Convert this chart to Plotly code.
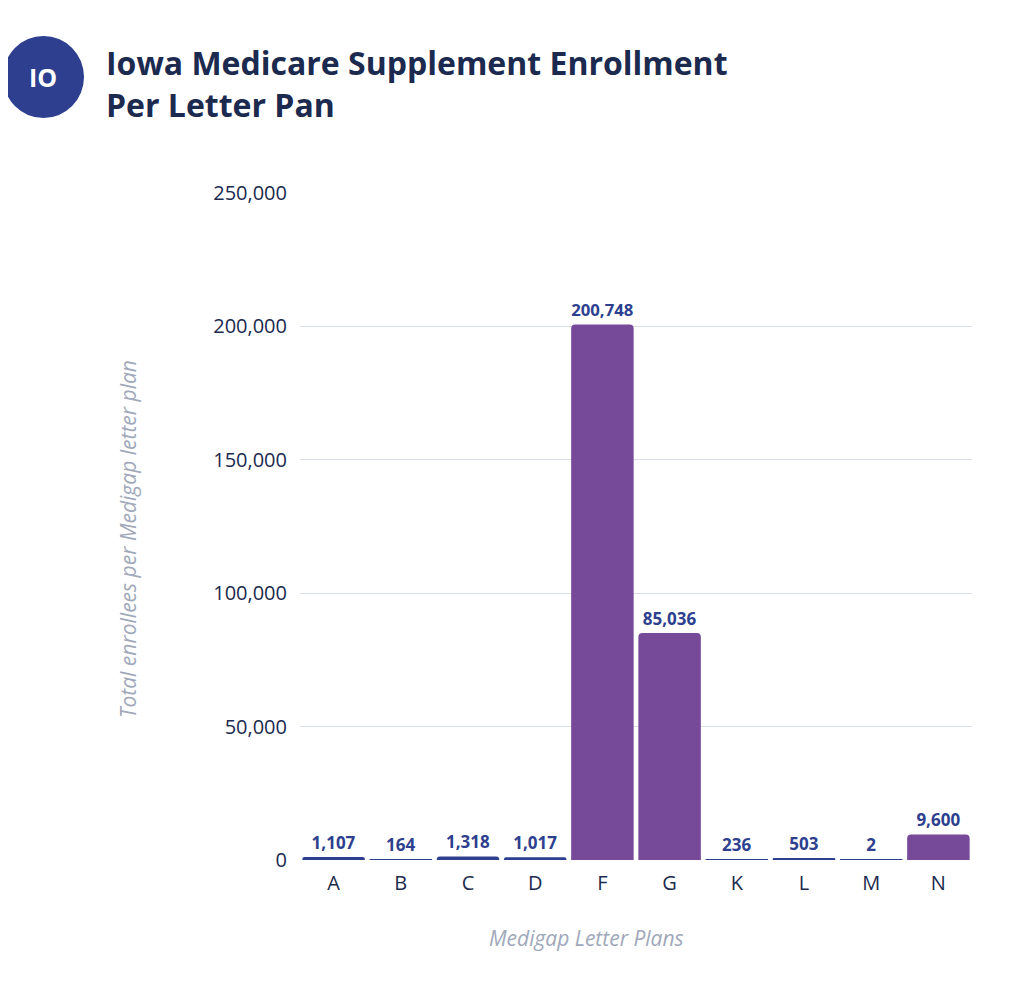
import plotly.graph_objects as go

plans = ["A", "B", "C", "D", "F", "G", "K", "L", "M", "N"]
enrollees = [1107, 164, 1318, 1017, 200748, 85036, 236, 503, 2, 9600]
labels = ["1,107", "164", "1,318", "1,017", "200,748", "85,036", "236", "503", "2", "9,600"]
y_ticks = [0, 50000, 100000, 150000, 200000, 250000]

purple = "#764a99"
navy = "#2d3f8e"
colors = [purple if v > 5000 else navy for v in enrollees]
FONT = "Open Sans, Noto Sans, sans-serif"

# page has an 8px body margin; figure is sized to fit inside the window
W, H = 1016, 977
L, R, T, B = 292, 52, 185, 125
PW, PH = W - L - R, H - T - B


def px(xp):  # page x -> paper x
    return (xp - 8 - L) / PW


def py(yp):  # page y -> paper y
    return (H - B - (yp - 8)) / PH


fig = go.Figure()
fig.add_trace(go.Bar(
    x=plans, y=enrollees, marker=dict(color=colors, line=dict(width=0), cornerradius=4),
    text=labels, textposition="outside", cliponaxis=False,
    textfont=dict(family=FONT, size=17, color="#2d3f8e", weight="bold"),
))

fig.update_layout(
    width=W, height=H,
    paper_bgcolor="white", plot_bgcolor="white",
    margin=dict(l=L, r=R, t=T, b=B),
    bargap=0.07,
    showlegend=False,
    font=dict(family=FONT),
)
fig.update_yaxes(
    range=[0, 250000], tickvals=y_ticks, tickformat=",",
    showgrid=True, gridcolor="#d9dee6", gridwidth=1, zeroline=False,
    tickfont=dict(size=20, color="#1b2a4e"), ticklen=0, ticks="", ticklabelstandoff=12,
)
fig.update_xaxes(
    tickfont=dict(size=20, color="#1b2a4e"), ticks="", showline=False, ticklabelstandoff=9,
)

# axis titles
fig.add_annotation(xref="paper", yref="paper", x=px(128), y=py(539),
                   xanchor="center", yanchor="middle", textangle=-90,
                   text="Total enrollees per Medigap letter plan", showarrow=False,
                   font=dict(size=21, color="#a0a8ba", style="italic", family=FONT))
fig.add_annotation(xref="paper", yref="paper", x=px(586), y=py(938),
                   xanchor="center", yanchor="middle",
                   text="Medigap Letter Plans", showarrow=False,
                   font=dict(size=21, color="#a0a8ba", style="italic", family=FONT))

# header badge and title
fig.add_shape(type="circle", xref="paper", yref="paper",
              x0=px(3), x1=px(84), y0=py(118), y1=py(36),
              fillcolor="#2d3f8e", line=dict(width=0))
fig.add_annotation(xref="paper", yref="paper", x=px(43), y=py(77),
                   xanchor="center", yanchor="middle",
                   text="<b>IO</b>", showarrow=False,
                   font=dict(size=25, color="white", family=FONT))
fig.add_annotation(xref="paper", yref="paper", x=px(104), y=py(39),
                   xanchor="left", yanchor="top", align="left",
                   text="<b>Iowa Medicare Supplement Enrollment<br>Per Letter Pan</b>",
                   showarrow=False,
                   font=dict(size=32, color="#1b2a4e", family=FONT))

fig.write_html("out.html")
